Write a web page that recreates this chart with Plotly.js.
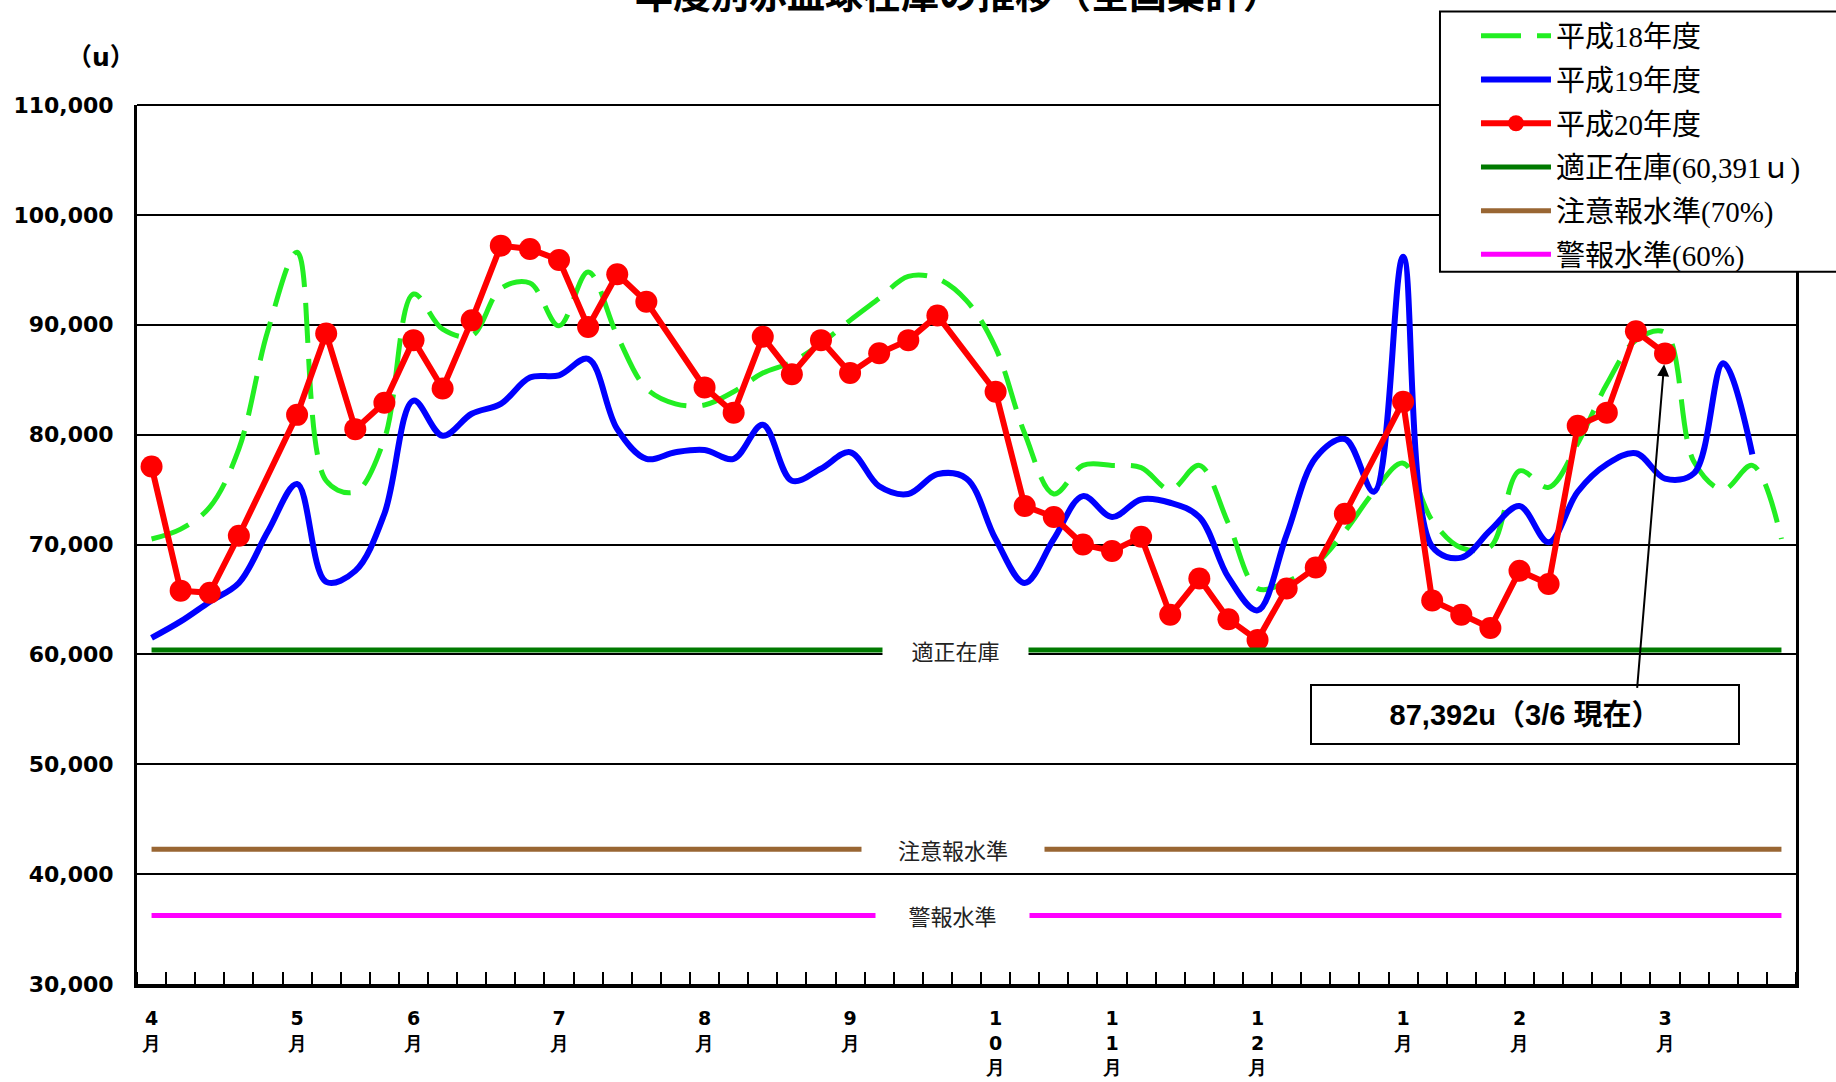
<!DOCTYPE html>
<html>
<head>
<meta charset="utf-8">
<script src="https://cdn.plot.ly/plotly-3.0.1.min.js"></script>
<style>html,body{margin:0;padding:0;background:#fff;}#chart{width:1836px;height:1082px;}</style>
</head>
<body>
<div id="chart"></div>
<script>
// weekly categories (57 weeks, April .. March)
const weekIndex = [...Array(57).keys()];
const monthTickIdx = [0, 5, 9, 14, 19, 24, 29, 33, 38, 43, 47, 52];
const monthLabels = ['4<br>月','5<br>月','6<br>月','7<br>月','8<br>月','9<br>月','1<br>0<br>月','1<br>1<br>月','1<br>2<br>月','1<br>月','2<br>月','3<br>月'];

// 平成18年度 (units)
const h18 = [70500,71400,73400,78700,89500,96600,75800,74800,79600,92800,
             89600,89000,93300,93800,89900,94800,89000,84200,82800,82700,
             83900,85600,86600,88300,90400,92400,94400,94200,92200,87900,
             80100,74600,77200,77200,77000,75000,77200,71900,66000,66600,
             68200,71200,74800,77400,72200,69700,69800,76700,75200,79200,
             84600,88600,89300,77500,75000,77200,70500];
// 平成19年度
const h19 = [61500,63000,64800,66500,71200,75500,66600,67600,72800,83100,
             79900,81900,82800,85200,85400,86900,80500,77800,78400,78600,
             77800,80900,75800,76900,78400,75300,74600,76400,76000,70500,
             66500,70500,74400,72500,74100,73800,72500,67000,64000,70900,
             77900,79600,74800,96200,69800,68800,71300,73500,70200,74800,
             77300,78300,76000,76500,86500,78200,null];
// 平成20年度
const h20 = [77100,65800,65600,70800,null,81800,89200,80500,82900,88600,
             84200,90400,97200,96900,95900,89800,94600,92100,null,84300,
             82000,88900,85500,88600,85600,87400,88600,90850,null,83900,
             73500,72500,70000,69400,70700,63600,66900,63200,61300,66000,
             67900,72800,null,83000,64900,63600,62400,67600,66400,80800,
             82000,89400,87392,null,null,null,null];

const OPTIMAL_LEVEL = 60391;   // 適正在庫
const CAUTION_LEVEL = 42274;   // 注意報水準(70%)
const WARNING_LEVEL = 36235;   // 警報水準(60%)
const yTicks = [30000,40000,50000,60000,70000,80000,90000,100000,110000];

const constLine = v => weekIndex.map(() => v);
const legendFont = {family: 'Liberation Serif, Noto Sans CJK JP, serif', size: 29, color: '#000'};

const traces = [
  {x: weekIndex, y: h18, name: '平成18年度', type: 'scatter', mode: 'lines',
   line: {color: '#22ee22', width: 5, dash: '40px,16px', shape: 'spline', smoothing: 1}, legendgroup: 'a'},
  {x: weekIndex, y: h19, name: '平成19年度', type: 'scatter', mode: 'lines',
   line: {color: '#0000ff', width: 6, shape: 'spline', smoothing: 1}, legendgroup: 'b'},
  {x: weekIndex, y: h20, name: '平成20年度', type: 'scatter', mode: 'lines+markers', connectgaps: true,
   line: {color: '#ff0000', width: 6}, marker: {color: '#ff0000', size: 22}, legendgroup: 'c'},
  {x: weekIndex, y: constLine(OPTIMAL_LEVEL), name: '適正在庫(60,391ｕ)', type: 'scatter', mode: 'lines',
   line: {color: '#007a00', width: 5}, legendgroup: 'd'},
  {x: weekIndex, y: constLine(CAUTION_LEVEL), name: '注意報水準(70%)', type: 'scatter', mode: 'lines',
   line: {color: '#996633', width: 5}, legendgroup: 'e'},
  {x: weekIndex, y: constLine(WARNING_LEVEL), name: '警報水準(60%)', type: 'scatter', mode: 'lines',
   line: {color: '#ff00ff', width: 5}, legendgroup: 'f'}
];

const refLabelFont = {family: 'Noto Sans CJK JP, sans-serif', size: 22, color: '#222'};

const layout = {
  width: 1836, height: 1082,
  margin: {l: 137, r: 40, t: 105, b: 98, autoexpand: false},
  paper_bgcolor: '#fff', plot_bgcolor: '#fff',
  showlegend: true,
  legend: {
    x: 0.8071, y: 1.1075, xanchor: 'left', yanchor: 'top',
    bgcolor: 'rgba(0,0,0,0)', borderwidth: 0,
    font: legendFont, itemwidth: 70, tracegroupgap: 3, traceorder: 'grouped'
  },
  xaxis: {
    range: [-0.5, 56.5], showgrid: false, zeroline: false,
    showline: true, linecolor: '#000', linewidth: 4,
    tickmode: 'array', tickvals: monthTickIdx, ticktext: monthLabels, ticks: '',
    ticklabelstandoff: 14,
    tickfont: {family: 'DejaVu Sans, sans-serif', size: 19, color: '#000', weight: 'bold'},
    minor: {tickmode: 'linear', tick0: 0.5, dtick: 1, ticks: 'inside', ticklen: 12, tickwidth: 2, tickcolor: '#000', showgrid: false}
  },
  yaxis: {
    range: [30000, 110000], tickmode: 'array', tickvals: yTicks, tickformat: ',d',
    showgrid: true, gridcolor: '#000', gridwidth: 2, zeroline: false,
    showline: true, linecolor: '#000', linewidth: 3, mirror: true, ticks: '',
    ticklabelstandoff: 16,
    tickfont: {family: 'DejaVu Sans, sans-serif', size: 22, color: '#000', weight: 'bold'}
  },
  shapes: [
    {type: 'line', xref: 'paper', yref: 'paper', x0: 0, x1: 1, y0: 1, y1: 1, line: {color: '#000', width: 2}},
    {type: 'rect', xref: 'paper', yref: 'paper', x0: 0.7854, x1: 1.04, y0: 0.8104, y1: 1.1063,
     fillcolor: '#fff', line: {color: '#000', width: 2}, layer: 'above'}
  ],
  annotations: [
    {text: '年度別赤血球在庫の推移（全国集計）', xref: 'paper', yref: 'paper', x: 0.495, y: 1.129,
     xanchor: 'center', yanchor: 'middle', showarrow: false,
     font: {family: 'Noto Sans CJK JP, sans-serif', size: 38, color: '#000', weight: 'bold'}},
    {text: '（u）', xref: 'paper', yref: 'paper', x: -0.022, y: 1.054, xanchor: 'center', yanchor: 'middle', showarrow: false,
     font: {family: 'DejaVu Sans, Noto Sans CJK JP, sans-serif', size: 25, color: '#000', weight: 'bold'}},
    {text: '適正在庫', xref: 'paper', yref: 'y', x: 0.4935, y: OPTIMAL_LEVEL, xanchor: 'center', yanchor: 'middle',
     showarrow: false, bgcolor: '#fff', width: 143, height: 30, font: refLabelFont},
    {text: '注意報水準', xref: 'paper', yref: 'y', x: 0.4917, y: CAUTION_LEVEL, xanchor: 'center', yanchor: 'middle',
     showarrow: false, bgcolor: '#fff', width: 180, height: 30, font: refLabelFont},
    {text: '警報水準', xref: 'paper', yref: 'y', x: 0.4917, y: WARNING_LEVEL, xanchor: 'center', yanchor: 'middle',
     showarrow: false, bgcolor: '#fff', width: 151, height: 30, font: refLabelFont},
    {text: '87,392u（3/6 現在）', xref: 'paper', yref: 'paper', x: 0.8367, y: 0.3067, xanchor: 'center', yanchor: 'middle',
     showarrow: false, bgcolor: '#fff', bordercolor: '#000', borderwidth: 2, width: 424, height: 55,
     font: {family: 'Liberation Sans, Noto Sans CJK JP, sans-serif', size: 29, color: '#000', weight: 'bold'}},
    {text: '', x: 52, y: h20[52], xref: 'x', yref: 'y', showarrow: true, ax: -28, ay: 336, axref: 'pixel', ayref: 'pixel',
     arrowhead: 2, arrowsize: 1.2, arrowwidth: 2, arrowcolor: '#000', standoff: 11}
  ]
};

Plotly.newPlot('chart', traces, layout, {displayModeBar: false, staticPlot: true});
</script>
</body>
</html>
